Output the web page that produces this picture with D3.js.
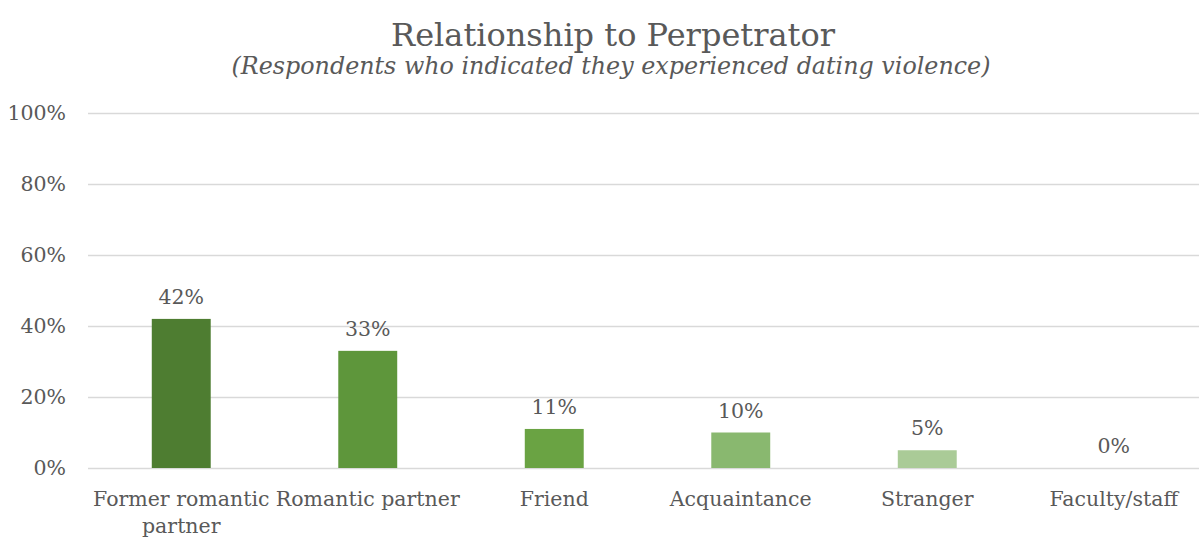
<!DOCTYPE html>
<html>
<head>
<meta charset="utf-8">
<script src="https://cdn.jsdelivr.net/npm/d3@7"></script>
<style>
  html, body { margin: 0; padding: 0; background: #fff; }
  svg text { font-family: "DejaVu Serif", "Liberation Serif", serif; fill: #595959; }
</style>
</head>
<body>
<svg id="chart" width="1199" height="539"></svg>
<script>
// Share of respondents by relationship to the perpetrator
const categories = ["Former romantic partner", "Romantic partner", "Friend", "Acquaintance", "Stranger", "Faculty/staff"];
const values = [42, 33, 11, 10, 5, 0];
const barColors = ["#4e7d31", "#5e963b", "#6aa343", "#89b86f", "#aacb97", "#c5ddb8"];
const yTicks = [0, 20, 40, 60, 80, 100];

const W = 1199, H = 539;
const margin = { left: 88, right: -8, top: 113, bottom: 71 };
const svg = d3.select("#chart");

const x = d3.scaleBand()
  .domain(categories)
  .range([margin.left, W - margin.right])
  .paddingInner(0.684)
  .paddingOuter(0.342);

const y = d3.scaleLinear()
  .domain([0, 100])
  .range([H - margin.bottom, margin.top]);

// Title and subtitle
svg.append("text")
  .attr("x", 613).attr("y", 46)
  .attr("text-anchor", "middle")
  .style("font-size", "32px")
  .text("Relationship to Perpetrator");
svg.append("text")
  .attr("x", 611).attr("y", 74)
  .attr("text-anchor", "middle")
  .style("font-size", "23.8px")
  .style("font-style", "italic")
  .text("(Respondents who indicated they experienced dating violence)");

// Horizontal gridlines
const yAxis = d3.axisLeft(y)
  .tickValues(yTicks)
  .tickSize(-(W - margin.right - margin.left))
  .tickFormat(d => d + "%")
  .tickPadding(22);

const gy = svg.append("g")
  .attr("transform", `translate(${margin.left},0)`)
  .call(yAxis);
gy.select(".domain").remove();
gy.selectAll(".tick line").attr("stroke", "#d9d9d9").attr("stroke-width", 1.5);
gy.selectAll(".tick text")
  .style("font-size", "20.5px")
  .style("font-family", "'DejaVu Serif', serif")
  .attr("fill", "#595959");

// Bars
svg.append("g").selectAll("rect")
  .data(categories)
  .join("rect")
  .attr("x", d => x(d))
  .attr("width", x.bandwidth())
  .attr("y", (d, i) => y(values[i]))
  .attr("height", (d, i) => y(0) - y(values[i]))
  .attr("fill", (d, i) => barColors[i]);

// Value labels
svg.append("g").selectAll("text")
  .data(categories)
  .join("text")
  .attr("x", d => x(d) + x.bandwidth() / 2)
  .attr("y", (d, i) => y(values[i]) - 15)
  .attr("text-anchor", "middle")
  .style("font-size", "20.5px")
  .text((d, i) => values[i] + "%");

// Category labels (first one wraps onto two lines)
const catLines = [["Former romantic", "partner"], ["Romantic partner"], ["Friend"], ["Acquaintance"], ["Stranger"], ["Faculty/staff"]];
const cl = svg.append("g").selectAll("text")
  .data(categories)
  .join("text")
  .attr("text-anchor", "middle")
  .style("font-size", "20.5px")
  .attr("transform", d => `translate(${x(d) + x.bandwidth() / 2},506)`);
cl.each(function(d, i) {
  d3.select(this).selectAll("tspan")
    .data(catLines[i])
    .join("tspan")
    .attr("x", 0)
    .attr("dy", (t, j) => j === 0 ? 0 : 27)
    .text(t => t);
});
</script>
</body>
</html>
